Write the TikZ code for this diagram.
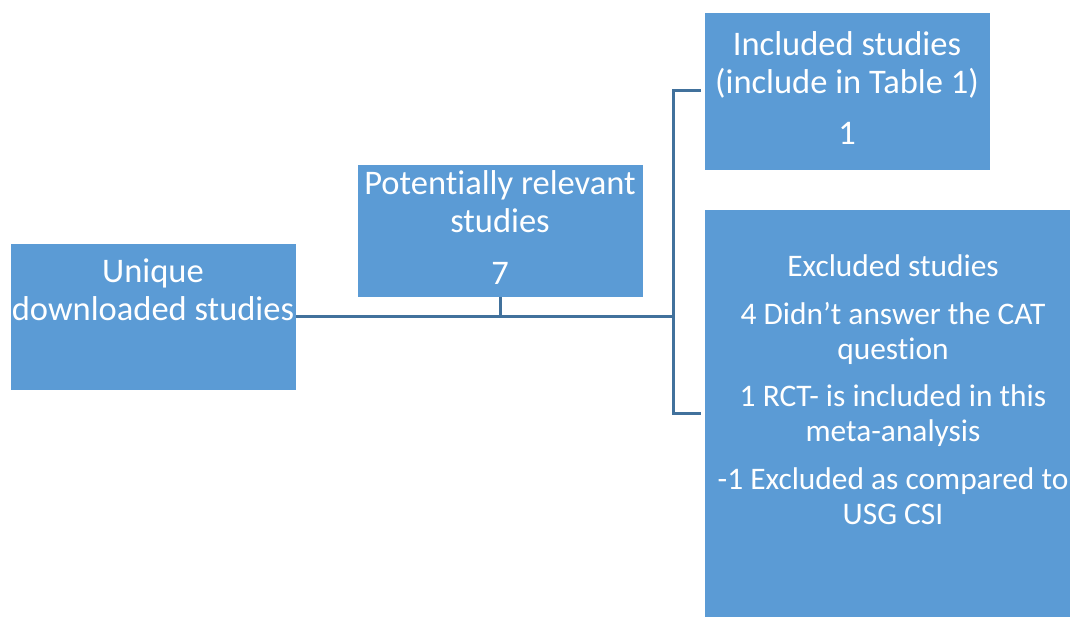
\documentclass[tikz,border=0pt]{standalone}
\usepackage{fontspec}
\setmainfont[Ligatures=NoCommon]{Carlito}
\definecolor{boxblue}{HTML}{5B9BD5}
\definecolor{linkblue}{HTML}{41719C}
\begin{document}
\begin{tikzpicture}[x=1pt,y=-1pt,
  box/.style={fill=boxblue, draw=white, line width=0.5pt, inner sep=0pt, outer sep=0pt, anchor=north west},
  txt/.style={text=white, align=center, anchor=base, inner sep=0pt, font=\fontsize{34.5}{38}\selectfont},
  smalltxt/.style={txt, font=\fontsize{31.4}{34.5}\selectfont},
  link/.style={draw=linkblue, line width=3pt}]
\useasboundingbox (0,0) rectangle (1070,617);
% boxes
\node[box, minimum width=286pt, minimum height=147pt] (b1) at (10,243) {};
\node[box, minimum width=286pt, minimum height=133pt] (b2) at (357,164) {};
\node[box, minimum width=286pt, minimum height=158pt] (b3) at (704,12) {};
\node[box, minimum width=366pt, minimum height=409pt] (b4) at (704,209) {};
% texts (anchored at the baseline of their last line)
\node[txt] (t1) at (153,320) {Unique\\downloaded studies};
\node[txt] (t2) at (500,285) {Potentially relevant\\studies\\[14pt]7};
\node[txt] (t3) at (847,145) {Included studies\\(include in Table 1)\\[13pt]1};
\node[smalltxt] (t4) at (893,524) {Excluded studies\\[14pt]4 Didn’t answer the CAT\\question\\[13pt]1 RCT- is included in this\\meta-analysis\\[14pt]-1 Excluded as compared to\\USG CSI};
% connectors
\coordinate (j) at (673,317);
\draw[link] (b1.east |- j) -- (j);
\draw[link] (b2.south) -- (b2.south |- j);
\draw[link] ([xshift=-3pt]b3.west) -| (j) |- ([xshift=-3pt]b4.west);
\end{tikzpicture}
\end{document}
